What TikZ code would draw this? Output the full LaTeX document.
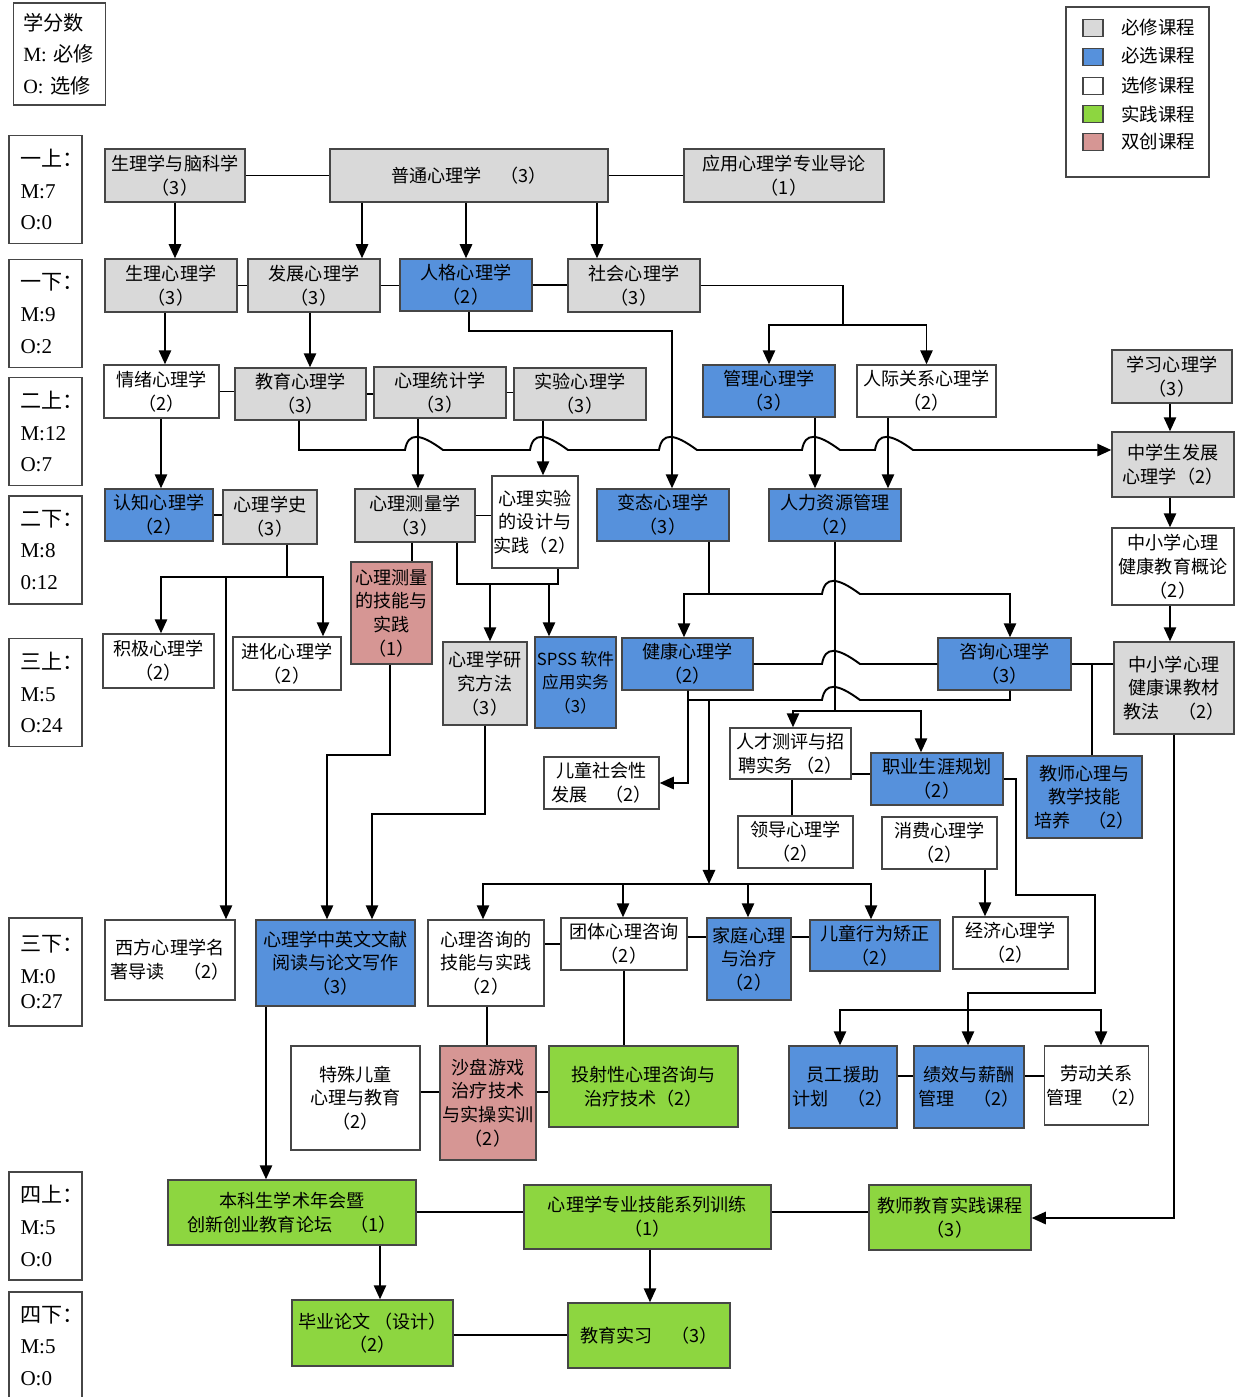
\documentclass[tikz,border=0pt]{standalone}
\usepackage{fontspec}
\setmainfont{Liberation Serif}
\newfontfamily\cjk{Noto Sans CJK SC}
\usetikzlibrary{arrows.meta}
\definecolor{reqgray}{RGB}{217,217,217}
\definecolor{selblue}{RGB}{86,145,220}
\definecolor{pracgreen}{RGB}{141,214,64}
\definecolor{innopink}{RGB}{214,150,148}
\definecolor{edge}{RGB}{70,70,70}
% bump of a horizontal line over a vertical one at x=#1, y=#2
\newcommand\hopover[2]{-- (#1-13,#2) .. controls (#1-10,#2-18) and (#1+2,#2-17) .. (#1+25,#2)}

\begin{document}
\begin{tikzpicture}[x=0.02cm, y=-0.02cm, line width=1.1pt,
  box/.style 2 args={draw=edge, line width=0.8pt, align=center,
    minimum width=#1*0.02cm, minimum height=#2*0.02cm,
    font=\cjk\fontsize{10.3}{13.5}\selectfont},
  req/.style 2 args={box={#1}{#2}, fill=reqgray},
  sel/.style 2 args={box={#1}{#2}, fill=selblue},
  opt/.style 2 args={box={#1}{#2}, fill=white},
  prac/.style 2 args={box={#1}{#2}, fill=pracgreen},
  inno/.style 2 args={box={#1}{#2}, fill=innopink},
  sem/.style={draw=edge, line width=0.8pt, align=left, text width=1.0cm,
    inner xsep=0.23cm, minimum height=2.16cm, font=\fontsize{12}{18}\selectfont},
  key/.style={draw=edge, line width=0.6pt, minimum width=0.4cm, minimum height=0.34cm, inner sep=0pt},
  arr/.style={-{Triangle[length=8pt,width=7pt]}}]
\tikzstyle{every node}+=[inner sep=1pt]
\useasboundingbox (0,0) rectangle (1239,1397);

% legends
\node[draw=edge, line width=0.8pt, align=left, text width=1.45cm, inner xsep=0.2cm,
  minimum height=2.04cm, font=\fontsize{11.5}{18}\selectfont] (credit) at (59.5,54)
  {{\cjk 学分数}\\M: {\cjk 必修}\\O: {\cjk 选修}};
\node[draw=edge, line width=0.8pt, minimum width=2.86cm, minimum height=3.4cm] (legend) at (1137.5,92) {};
\node[key, fill=reqgray] (kreq) at (1093,28) {};
\node[key, fill=selblue] (ksel) at (1093,57) {};
\node[key, fill=white] (kopt) at (1093,86) {};
\node[key, fill=pracgreen] (kprac) at (1093,114) {};
\node[key, fill=innopink] (kinno) at (1093,142) {};
\node[font=\cjk\fontsize{10.5}{12}\selectfont] (treq) at (1158,27) {必修课程};
\node[font=\cjk\fontsize{10.5}{12}\selectfont] (tsel) at (1158,56) {必选课程};
\node[font=\cjk\fontsize{10.5}{12}\selectfont] (topt) at (1158,85) {选修课程};
\node[font=\cjk\fontsize{10.5}{12}\selectfont] (tprac) at (1158,114) {实践课程};
\node[font=\cjk\fontsize{10.5}{12}\selectfont] (tinno) at (1158,142) {双创课程};

% semesters
\node[sem] (sem1) at (45.5,189.5) {{\cjk 一上：}\\M:7\\O:0};
\node[sem] (sem2) at (45.5,313.5) {{\cjk 一下：}\\M:9\\O:2};
\node[sem] (sem3) at (45.5,431.5) {{\cjk 二上：}\\M:12\\O:7};
\node[sem] (sem4) at (45.5,550) {{\cjk 二下：}\\M:8\\0:12};
\node[sem] (sem5) at (45.5,692.5) {{\cjk 三上：}\\M:5\\O:24};
\node[sem] (sem6) at (45.5,972) {{\cjk 三下：}\\M:0\\[-4pt]O:27};
\node[sem] (sem7) at (45.5,1226) {{\cjk 四上：}\\M:5\\O:0};
\node[sem] (sem8) at (45.5,1346) {{\cjk 四下：}\\M:5\\O:0};

% courses
\node[req={140}{53}] (physbrain) at (175,175.5) {生理学与脑科学\\（3）};
\node[req={278}{53}] (general) at (469,175.5) {普通心理学　（3）};
\node[req={200}{53}] (intro) at (784,175.5) {应用心理学专业导论\\（1）};
\node[req={132}{53}] (physio) at (171,285.5) {生理心理学\\（3）};
\node[req={132}{53}] (devel) at (314,285.5) {发展心理学\\（3）};
\node[sel={132}{52}] (person) at (466,285) {人格心理学\\（2）};
\node[req={132}{53}] (social) at (634,285.5) {社会心理学\\（3）};
\node[opt={115}{53}] (emotion) at (161.5,391.5) {情绪心理学\\（2）};
\node[req={131}{52}] (edu) at (300.5,394) {教育心理学\\（3）};
\node[req={132}{51}] (stats) at (440,392.5) {心理统计学\\（3）};
\node[req={132}{52}] (exper) at (580,394) {实验心理学\\（3）};
\node[sel={132}{52}] (manage) at (769,391) {管理心理学\\（3）};
\node[opt={139}{52}] (interp) at (926.5,391) {人际关系心理学\\（2）};
\node[req={120}{53}] (learn) at (1172,376.5) {学习心理学\\（3）};
\node[req={122}{65}] (teendev) at (1173,464.5) {中学生发展\\心理学（2）};
\node[sel={108}{52}] (cognit) at (159,515) {认知心理学\\（2）};
\node[req={94}{54}] (hist) at (270,517) {心理学史\\（3）};
\node[req={120}{53}] (measure) at (415,515.5) {心理测量学\\（3）};
\node[opt={86}{92}] (expdesign) at (535,522) {心理实验\\的设计与\\实践（2）};
\node[sel={132}{52}] (abnorm) at (663,515) {变态心理学\\（3）};
\node[sel={132}{52}] (hr) at (835,515) {人力资源管理\\（2）};
\node[opt={122}{77}] (mhintro) at (1173,566.5) {中小学心理\\健康教育概论\\（2）};
\node[opt={111}{54}] (positive) at (158.5,661) {积极心理学\\（2）};
\node[opt={108}{53}] (evol) at (287,663.5) {进化心理学\\（2）};
\node[inno={81}{102}] (measskill) at (391.5,613) {心理测量\\的技能与\\实践\\（1）};
\node[req={84}{83}] (method) at (485,683.5) {心理学研\\究方法\\（3）};
\node[sel={79}{91}, font=\cjk\fontsize{9.5}{13.5}\selectfont] (spss) at (575.5,682.5) {SPSS 软件\\应用实务\\（3）};
\node[sel={131}{52}] (health) at (687.5,664) {健康心理学\\（2）};
\node[sel={133}{52}] (counsel) at (1004.5,664) {咨询心理学\\（3）};
\node[req={120}{92}] (mhteach) at (1174,688) {中小学心理\\健康课教材\\教法　（2）};
\node[opt={115}{52}] (childsoc) at (601.5,783) {儿童社会性\\发展　（2）};
\node[opt={121}{51}] (talent) at (790.5,753.5) {人才测评与招\\聘实务 （2）};
\node[sel={132}{52}] (career) at (937,779) {职业生涯规划\\（2）};
\node[opt={115}{52}] (lead) at (795.5,842) {领导心理学\\（2）};
\node[opt={115}{52}] (consume) at (939.5,843) {消费心理学\\（2）};
\node[sel={115}{82}] (teacherpsy) at (1084.5,797) {教师心理与\\教学技能\\培养　（2）};
\node[opt={115}{52}] (econ) at (1010.5,943) {经济心理学\\（2）};
\node[opt={130}{80}] (classics) at (170,960) {西方心理学名\\著导读　（2）};
\node[sel={159}{86}] (litread) at (335.5,963) {心理学中英文文献\\阅读与论文写作\\（3）};
\node[opt={116}{86}] (cskill) at (486,963) {心理咨询的\\技能与实践\\（2）};
\node[opt={126}{52}] (group) at (624,944) {团体心理咨询\\（2）};
\node[sel={84}{82}] (family) at (749,959) {家庭心理\\与治疗\\（2）};
\node[sel={130}{51}] (childbeh) at (875,945.5) {儿童行为矫正\\（2）};
\node[opt={129}{104}] (special) at (355.5,1098) {特殊儿童\\心理与教育\\（2）};
\node[inno={96}{114}] (sand) at (488,1103) {沙盘游戏\\治疗技术\\与实操实训\\（2）};
\node[prac={189}{81}] (project) at (643.5,1086.5) {投射性心理咨询与\\治疗技术（2）};
\node[sel={108}{82}] (eap) at (843,1087) {员工援助\\计划　（2）};
\node[sel={110}{82}] (perf) at (969,1087) {绩效与薪酬\\管理　（2）};
\node[opt={101}{79}] (labor) at (1096.5,1085.5) {劳动关系\\管理　（2）};
\node[prac={248}{65}] (forum) at (292,1212.5) {本科生学术年会暨\\创新创业教育论坛　（1）};
\node[prac={247}{64}] (skilltrain) at (647.5,1217) {心理学专业技能系列训练\\（1）};
\node[prac={162}{65}] (tpractice) at (950,1217.5) {教师教育实践课程\\（3）};
\node[prac={161}{66}] (thesis) at (372.5,1333) {毕业论文 （设计）\\（2）};
\node[prac={162}{65}] (intern) at (649,1335.5) {教育实习　（3）};

% junctions
\coordinate (socfork) at (843,325);
\coordinate (histfork) at (287,577);
\coordinate (westdrop) at (226,577);
\coordinate (measbar) at (490,584);
\coordinate (designbar) at (549,584);
\coordinate (abnfork) at (709,594);
\coordinate (hrfork) at (835,711);
\coordinate (healthfork) at (688,700);
\coordinate (lowdrop) at (709,700);
\coordinate (lowfork) at (709,884);
\coordinate (careerfork) at (968,1010);
\coordinate (teachtap) at (1092,664);

% first year
\draw (physbrain) -- (general);
\draw (general) -- (intro);
\draw[arr] (physbrain.south) -- (physbrain.south |- physio.north);
\draw[arr] (general.south -| 362,0) -- (devel.north -| 362,0);
\draw[arr] (general.south -| 466,0) -- (person.north);
\draw[arr] (general.south -| 597,0) -- (social.north -| 597,0);
\draw (physio) -- (devel);
\draw (devel.east) -- (devel.east -| person.west);
\draw (person.east) -- (person.east -| social.west);
\draw (social.east) -| (socfork);
\draw[arr] (socfork) -| (manage.north);
\draw[arr] (socfork) -| (interp.north);
\draw[arr] (person.south -| 469,0) |- (672,331) -- (abnorm.north -| 672,0);
\draw[arr] (physio.south -| 165,0) -- (emotion.north -| 165,0);
\draw[arr] (devel.south -| 310,0) -- (edu.north -| 310,0);

% second year
\draw (emotion.east) -- (emotion.east -| edu.west);
\draw (edu.east) -- (edu.east -| stats.west);
\draw (stats.east) -- (stats.east -| exper.west);
\draw[arr] (edu.south -| 299,0) -- (299,450) \hopover{418}{450} \hopover{543}{450}
  \hopover{672}{450} \hopover{815}{450} \hopover{888}{450} -- (teendev.west |- 0,450);
\draw[arr] (stats.south -| 418,0) -- (measure.north -| 418,0);
\draw[arr] (exper.south -| 543,0) -- (expdesign.north -| 543,0);
\draw[arr] (manage.south -| 815,0) -- (hr.north -| 815,0);
\draw[arr] (interp.south -| 888,0) -- (hr.north -| 888,0);
\draw[arr] (learn.south -| 1170,0) -- (teendev.north -| 1170,0);
\draw[arr] (emotion.south -| 161,0) -- (cognit.north -| 161,0);
\draw[arr] (teendev.south -| 1170,0) -- (mhintro.north -| 1170,0);
\draw[arr] (mhintro.south -| 1170,0) -- (mhteach.north -| 1170,0);
\draw[arr] (mhteach.south -| 1174,0) |- (tpractice.east |- 0,1218);
\draw (cognit.east) -- (cognit.east -| hist.west);
\draw (measure.east) -- (measure.east -| expdesign.west);
\draw (hist.south -| 287,0) -- (histfork);
\draw[arr] (histfork) -| (positive.north -| 161,0);
\draw[arr] (histfork) -| (evol.north -| 323,0);
\draw[arr] (westdrop) -- (classics.north -| 226,0);
\draw (measure.south -| 412,0) -- (measskill.north -| 412,0);
\draw (measure.south -| 457,0) |- (558,584) -- (expdesign.south -| 558,0);
\draw[arr] (measbar) -- (method.north -| 490,0);
\draw[arr] (designbar) -- (spss.north -| 549,0);
\draw[arr] (abnorm.south -| 709,0) -- (abnfork) -| (health.north -| 684,0);
\draw[arr] (abnfork) \hopover{835}{594} -| (counsel.north -| 1010,0);
\draw (hr.south) -- (hrfork);
\draw[arr] (hrfork) -| (talent.north -| 793,0);
\draw[arr] (hrfork) -| (career.north -| 921,0);

% third year
\draw[arr] (measskill.south -| 390,0) |- (327,755) -- (litread.north -| 327,0);
\draw[arr] (method.south -| 485,0) |- (372,814) -- (litread.north -| 372,0);
\draw (health.east) \hopover{835}{664} -- (counsel.west);
\draw (health.south -| 688,0) -- (healthfork) \hopover{835}{700} -| (counsel.south -| 1010,0);
\draw[arr] (healthfork) |- (childsoc.east |- 0,783);
\draw[arr] (lowdrop) -- (lowfork);
\draw[arr] (lowfork) -| (cskill.north -| 483,0);
\draw[arr] (lowfork) -| (group.north -| 623,0);
\draw[arr] (lowfork) -| (family.north -| 748,0);
\draw[arr] (lowfork) -| (childbeh.north -| 871,0);
\draw (talent.east |- 0,774) -- (career.west |- 0,774);
\draw (talent.south -| 792,0) -- (lead.north -| 792,0);
\draw[arr] (consume.south -| 985,0) -- (econ.north -| 985,0);
\draw[arr] (career.east) -| (1016,895) -| (1095,993) -| (perf.north -| 968,0);
\draw[arr] (careerfork) -| (eap.north -| 840,0);
\draw[arr] (careerfork) -| (labor.north -| 1101,0);
\draw (counsel.east) -- (counsel.east -| mhteach.west);
\draw (teachtap) -- (teacherpsy.north -| 1092,0);
\draw (group.west) -- (group.west -| cskill.east);
\draw (group.east |- 0,937) -- (family.west |- 0,937);
\draw (family.east |- 0,937) -- (childbeh.west |- 0,937);
\draw (cskill.south -| 487,0) -- (sand.north -| 487,0);
\draw (group.south) -- (group.south |- project.north);
\draw (special.east |- 0,1092) -- (sand.west |- 0,1092);
\draw (sand.east |- 0,1092) -- (project.west |- 0,1092);
\draw (eap.east |- 0,1076) -- (perf.west |- 0,1076);
\draw (perf.east |- 0,1076) -- (labor.west |- 0,1076);

% fourth year
\draw[arr] (litread.south -| 266,0) -- (forum.north -| 266,0);
\draw (forum.east |- 0,1212) -- (skilltrain.west |- 0,1212);
\draw (skilltrain.east |- 0,1212) -- (tpractice.west |- 0,1212);
\draw[arr] (forum.south -| 380,0) -- (thesis.north -| 380,0);
\draw[arr] (skilltrain.south -| 650,0) -- (intern.north -| 650,0);
\draw (thesis.east |- 0,1335) -- (intern.west |- 0,1335);
\end{tikzpicture}
\end{document}
